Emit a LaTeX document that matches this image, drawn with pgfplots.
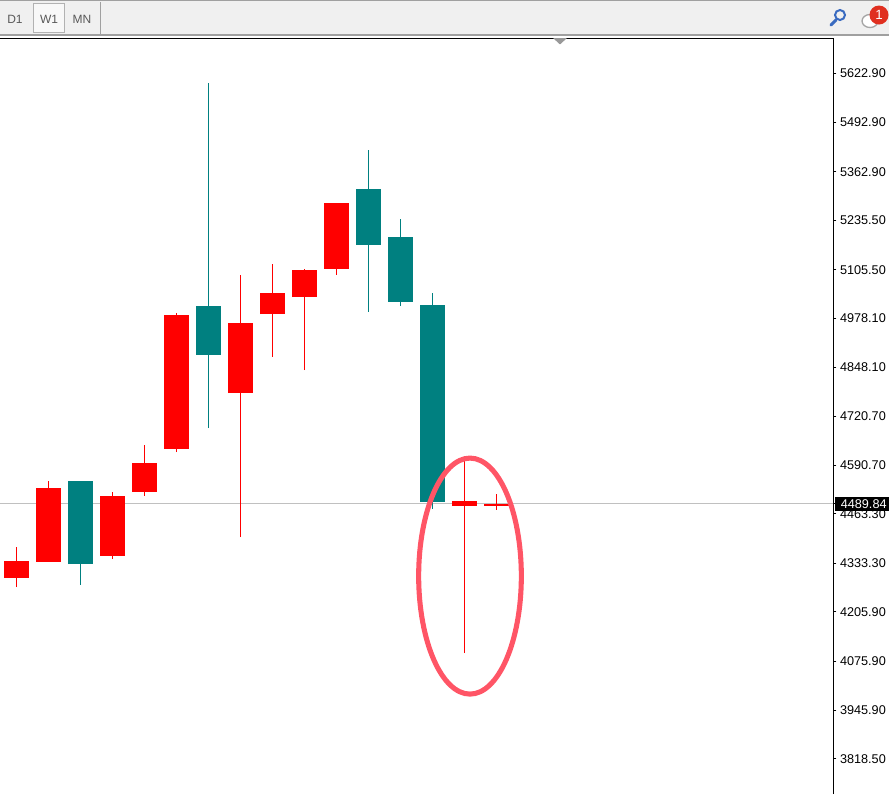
\documentclass[border=0pt]{standalone}
\usepackage{fontspec}
\setmainfont{Liberation Sans}
\usepackage{pgfplots}
\pgfplotsset{compat=1.18}
\definecolor{candleup}{HTML}{FF0000}
\definecolor{candledown}{HTML}{008080}
\definecolor{ring}{HTML}{FF5566}
\definecolor{barbg}{HTML}{F0F0F0}
\definecolor{barline}{HTML}{A0A0A0}
\definecolor{pricegray}{HTML}{C0C0C0}
\definecolor{lens}{HTML}{3A6BC0}
\definecolor{badge}{HTML}{E03020}
% x position, colour, wick low, body low, body high, wick high
\newcommand{\candle}[6]{%
  \addplot[#2, line width=0.75pt] coordinates {(#1,#3) (#1,#6)};
  \addplot[#2, line width=18.75pt] coordinates {(#1,#4) (#1,#5)};}
\begin{document}
\begin{tikzpicture}[x=0.75pt,y=0.75pt]
\useasboundingbox (0,0) rectangle (889,-794);
% toolbar, in picture pixels from the top-left corner
\begin{scope}[y=-0.75pt]
\fill[barbg] (0,0) rectangle (889,34);
\fill[barline] (0,0) rectangle (889,1);
\fill[barline] (0,34) rectangle (889,36);
\draw[black!30, fill=white!50!barbg, line width=0.75pt] (33.5,3.5) rectangle (64,32);
\draw[barline, line width=0.75pt] (100.5,2) -- (100.5,34);
\node[text=black!65, font=\fontsize{9}{10}\selectfont] at (15,19) {D1};
\node[text=black!65, font=\fontsize{9}{10}\selectfont] at (49,19) {W1};
\node[text=black!65, font=\fontsize{9}{10}\selectfont] at (82,19) {MN};
\draw[lens, line width=1.5pt] (840,15) circle [radius=5];
\draw[lens, line width=2.2pt, line cap=round] (836,20) -- (831,25);
\draw[black!35, fill=white, line width=1pt] (870,21) ellipse [x radius=8, y radius=6.5];
\fill[badge] (879,15) circle [radius=9.5];
\node[text=white, font=\fontsize{10}{11}\selectfont] at (879,15) {1};
\end{scope}
\begin{axis}[
  at={(0pt,-28.5pt)},
  anchor=north west,
  scale only axis,
  width=624.75pt,
  height=567pt,
  xmin=0, xmax=833,
  ymin=3726.4, ymax=5714.96,
  axis x line*=top,
  axis y line*=right,
  axis line style={black, line width=0.75pt, -},
  xtick=\empty,
  ytick={5622.9,5492.9,5362.9,5235.5,5105.5,4978.1,4848.1,4720.7,4590.7,4463.3,4333.3,4205.9,4075.9,3945.9,3818.5},
  yticklabels={5622.90,5492.90,5362.90,5235.50,5105.50,4978.10,4848.10,4720.70,4590.70,4463.30,4333.30,4205.90,4075.90,3945.90,3818.50},
  tick style={black, line width=0.75pt},
  tick align=outside,
  major tick length=2.5pt,
  y tick label style={font=\fontsize{9.5}{10}\selectfont, xshift=-0.75pt},
  /pgf/number format/assume math mode=true,
  extra y ticks={4489.84},
  extra y tick labels={4489.84},
  extra y tick style={tick label style={fill=black, text=white, inner xsep=4.5pt, inner ysep=2pt, xshift=-0.6pt}},
  clip=false,
]
\addplot[pricegray, line width=0.75pt] coordinates {(0,4489.84) (833,4489.84)};
\candle{16}{candleup}{4270.9}{4294.6}{4339.3}{4376.1}
\candle{48}{candleup}{4336.7}{4336.7}{4531.3}{4549.7}
\candle{80}{candledown}{4276.2}{4331.4}{4549.7}{4549.7}
\candle{112}{candleup}{4344.6}{4352.5}{4510.3}{4520.8}
\candle{144}{candleup}{4510.3}{4520.8}{4597.1}{4644.4}
\candle{176}{candleup}{4626.0}{4633.9}{4986.4}{4991.6}
\candle{208}{candledown}{4689.1}{4881.2}{5010.0}{5596.6}
\candle{240}{candleup}{4402.4}{4781.2}{4965.3}{5091.6}
\candle{272}{candleup}{4875.9}{4989.0}{5044.2}{5120.5}
\candle{304}{candleup}{4841.7}{5033.7}{5104.7}{5107.4}
\candle{336}{candleup}{5091.6}{5107.4}{5281.0}{5281.0}
\candle{368}{candledown}{4994.3}{5170.5}{5317.8}{5420.4}
\candle{400}{candledown}{5010.0}{5020.6}{5191.5}{5238.9}
\candle{432}{candledown}{4476.1}{4494.5}{5012.7}{5044.2}
\candle{464}{candleup}{4097.3}{4484.0}{4497.1}{4605.0}
\candle{496}{candleup}{4473.5}{4484.0}{4489.2}{4515.5}
% hand-drawn ring round the last two bars
\draw[ring, line width=3.8pt] (axis cs:470,4299.6) ellipse [x radius=38.5pt, y radius=88.5pt];
% scroll marker under the top border
\fill[black!40] (axis cs:553,5714.96) -- (axis cs:567,5714.96) -- (axis cs:560,5698) -- cycle;
\end{axis}
\end{tikzpicture}
\end{document}
